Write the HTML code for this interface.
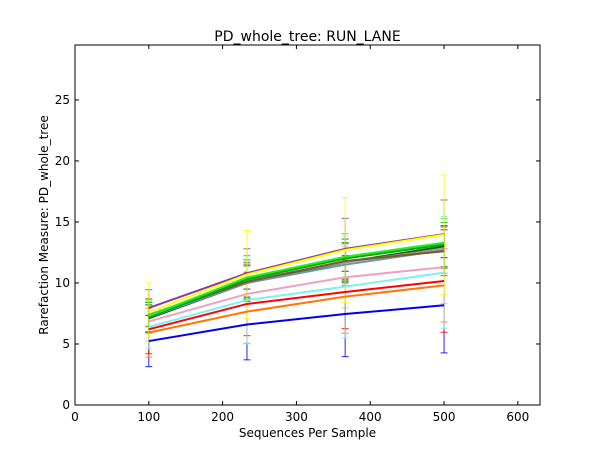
<!DOCTYPE html>
<html><head><meta charset="utf-8">
<style>
html,body{margin:0;padding:0;background:#fff;}
svg text{font-family:"DejaVu Sans","Liberation Sans",sans-serif;}
</style></head>
<body>
<svg id="chart" width="600" height="450" viewBox="0 0 600 450" xmlns="http://www.w3.org/2000/svg">
<rect x="0" y="0" width="600" height="450" fill="#fff"/>
<g id="marks"></g>
<g id="axes"></g>
<text x="307.5" y="41" font-size="14" text-anchor="middle">PD_whole_tree: RUN_LANE</text>
<text x="307.5" y="437" font-size="12" text-anchor="middle">Sequences Per Sample</text>
<text x="48" y="225" font-size="12" text-anchor="middle" transform="rotate(-90 48 225)">Rarefaction Measure: PD_whole_tree</text>
</svg>
<script>
const xValues = [100, 233, 366, 500];
const seriesNames = ["purple","yellow","lime","green","brown","gray","steelblue","darkgreen","pink","cyan","red","orange","blue"];
const seriesColors = ["#8b3a9a","#ffff00","#22ee22","#00aa00","#7a5a2a","#999999","#6a9aaa","#006400","#f0a0c0","#7ff0f0","#ff0000","#ff7700","#0000ee"];
const seriesValues = [
 [7.95,10.8,12.8,14.0],
 [7.6,10.7,12.7,13.95],
 [7.3,10.45,12.15,13.3],
 [7.2,10.3,12.0,13.15],
 [7.3,10.1,11.8,12.6],
 [7.4,10.2,11.7,12.8],
 [7.2,10.0,11.5,12.7],
 [7.1,10.0,11.7,13.0],
 [6.85,9.1,10.47,11.3],
 [6.4,8.6,9.7,10.85],
 [6.2,8.28,9.26,10.16],
 [5.93,7.65,8.88,9.8],
 [5.24,6.6,7.46,8.17]
];
const seriesErrors = [
 [1.5,2.0,2.5,2.8],
 [2.4,3.6,4.3,4.9],
 [1.3,1.8,1.9,2.0],
 [1.2,1.6,1.6,1.8],
 [1.4,1.6,1.8,2.0],
 [1.0,1.3,1.5,1.6],
 [1.2,1.5,1.7,1.9],
 [1.1,1.4,1.6,1.7],
 [1.6,2.5,2.5,3.0],
 [1.8,3.6,4.2,4.6],
 [2.0,2.6,3.0,4.2],
 [2.0,2.6,3.0,3.0],
 [2.1,2.9,3.5,3.9]
];
const xTicks = [0,100,200,300,400,500,600];
const yTicks = [0,5,10,15,20,25];

const L=75,R=540,T=45,B=405, XMAX=630, YMAX=29.5;
const xs=v=>L+(v/XMAX)*(R-L);
const ys=v=>B-(v/YMAX)*(B-T);
const NS="http://www.w3.org/2000/svg";
function mk(tag,attrs,parent){const e=document.createElementNS(NS,tag);for(const k in attrs)e.setAttribute(k,attrs[k]);parent.appendChild(e);return e;}
const marks=document.getElementById('marks'), axes=document.getElementById('axes');

// draw order: purple first, then others bottom-up, yellow last
const order=[0];
for(let s=seriesValues.length-1;s>=2;s--) order.push(s);
order.push(1);

order.forEach(s=>{
  for(let i=0;i<xValues.length;i++){
    const x=xs(xValues[i]),v=seriesValues[s][i],e=seriesErrors[s][i];
    const g=mk('g',{stroke:seriesColors[s],'stroke-width':1,opacity:0.85},marks);
    
    
    mk('line',{x1:x,x2:x,y1:ys(v-e),y2:ys(v+e)},g);
    mk('line',{x1:x-3.5,x2:x+3.5,y1:ys(v-e),y2:ys(v-e)},g);
    mk('line',{x1:x-3.5,x2:x+3.5,y1:ys(v+e),y2:ys(v+e)},g);
  }
});
order.forEach(s=>{
  const pts=xValues.map((xv,i)=>xs(xv)+','+ys(seriesValues[s][i])).join(' ');
  const p=mk('polyline',{points:pts,fill:'none',stroke:seriesColors[s],'stroke-width':2},marks);
  
  
});
const fr=mk('rect',{x:L,y:T,width:R-L,height:B-T,fill:'none',stroke:'#000','stroke-width':1},axes);


xTicks.forEach(t=>{
  const x=xs(t);
  mk('line',{x1:x,x2:x,y1:B,y2:B-4,stroke:'#000'},axes);
  mk('line',{x1:x,x2:x,y1:T,y2:T+4,stroke:'#000'},axes);
  const tx=mk('text',{x:x,y:B+16,'font-size':12,'text-anchor':'middle'},axes);
  tx.textContent=t;
  
  
});
yTicks.forEach(t=>{
  const y=ys(t);
  mk('line',{x1:L,x2:L+4,y1:y,y2:y,stroke:'#000'},axes);
  mk('line',{x1:R,x2:R-4,y1:y,y2:y,stroke:'#000'},axes);
  const tx=mk('text',{x:L-5,y:y+4,'font-size':12,'text-anchor':'end'},axes);
  tx.textContent=t;
  
  
});
</script>
</body></html>
